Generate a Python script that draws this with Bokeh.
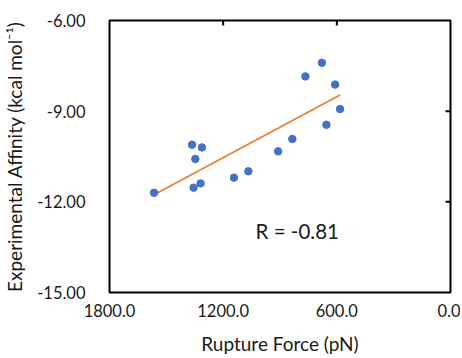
import numpy as np
from bokeh.plotting import figure
from bokeh.models import Range1d, FixedTicker, NumeralTickFormatter, LinearAxis, Label
from bokeh.embed import file_html
from bokeh.resources import INLINE

# Data
rupture_force = [1565, 1364, 1312, 1347, 1356, 1319, 1143, 1067, 910, 835, 766, 679, 609, 583, 655]
affinity = [-11.70, -10.11, -10.20, -10.58, -11.53, -11.39, -11.20, -10.99, -10.33, -9.92,
            -7.85, -7.40, -8.12, -8.93, -9.45]
x_ticks = [1800, 1200, 600, 0]
y_ticks = [-15, -12, -9, -6]
r_text = "R = -0.81"

FONT = "Lato"
TXT = "#1a1a1a"

X0, X1 = 1800, 0
Y0, Y1 = -15, -6
W, H = 460, 358
BL, BR, BT, BB = 107, 10, 20, 66
FW, FH = W - BL - BR, H - BT - BB

p = figure(width=W, height=H, output_backend="svg", toolbar_location=None,
           x_range=Range1d(X0, X1), y_range=Range1d(Y0, Y1),
           x_axis_location=None, y_axis_location=None,
           min_border_left=BL, min_border_right=BR, min_border_top=BT, min_border_bottom=BB)
p.xgrid.visible = False
p.ygrid.visible = False
p.outline_line_color = "black"
p.outline_line_width = 2
p.background_fill_color = "white"
p.border_fill_color = "white"

# Bottom axis: labels only
xb = LinearAxis(ticker=FixedTicker(ticks=x_ticks), formatter=NumeralTickFormatter(format="0.0"),
                axis_label="Rupture Force (pN)")
xb.axis_line_color = None
xb.major_tick_line_color = None
xb.minor_tick_line_color = None
xb.major_label_standoff = 5
xb.major_label_text_font = FONT
xb.major_label_text_font_size = "16.5px"
xb.major_label_text_color = TXT
xb.axis_label_text_font = FONT
xb.axis_label_text_font_size = "19px"
xb.axis_label_text_font_style = "normal"
xb.axis_label_text_color = TXT
xb.axis_label_standoff = 12
p.add_layout(xb, "below")

# Left axis: labels only
yl = LinearAxis(ticker=FixedTicker(ticks=y_ticks), formatter=NumeralTickFormatter(format="0.00"),
                axis_label="Experimental Affinity (kcal mol⁻¹)")
yl.axis_line_color = None
yl.major_tick_line_color = None
yl.minor_tick_line_color = None
yl.major_label_standoff = 18
yl.major_label_text_font = FONT
yl.major_label_text_font_size = "16.5px"
yl.major_label_text_color = TXT
yl.axis_label_text_font = FONT
yl.axis_label_text_font_size = "19px"
yl.axis_label_text_font_style = "normal"
yl.axis_label_text_color = TXT
yl.axis_label_standoff = 8
p.add_layout(yl, "left")

# Inward tick marks on the top and right frame edges (at the inner tick values)
tick_len_px = 5
dy = (Y1 - Y0) * tick_len_px / FH
dx = (X0 - X1) * tick_len_px / FW
xt = x_ticks[1:-1]
yt = y_ticks[1:-1]
p.segment(x0=xt, y0=[Y1] * len(xt), x1=xt, y1=[Y1 - dy] * len(xt),
          line_color="black", line_width=2)
p.segment(x0=[X1] * len(yt), y0=yt, x1=[X1 + dx] * len(yt), y1=yt,
          line_color="black", line_width=2)

# Linear trend line from the data
xs = np.array(rupture_force, dtype=float)
ys = np.array(affinity, dtype=float)
slope, intercept = np.polyfit(xs, ys, 1)
lx = np.array([xs.min(), xs.max()])
p.line(lx, slope * lx + intercept, line_color="#ED7D31", line_width=1.8)

p.scatter(rupture_force, affinity, size=7.5, fill_color="#4472C4", line_color="#4472C4")

p.add_layout(Label(x=1029, y=-12.95, text=r_text, text_font=FONT, text_font_size="20.5px",
                   text_color=TXT, text_baseline="alphabetic"))

open("out.html", "w").write(file_html(p, INLINE))
